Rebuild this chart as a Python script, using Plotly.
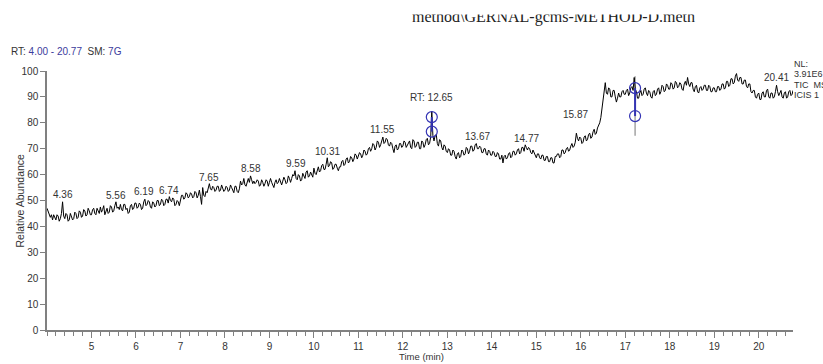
import numpy as np
import plotly.graph_objects as go

# ---------------- data ----------------
abund = [
    # 4.00 - 4.975
    47, 46, 45, 43.5, 44.5, 42.5, 44.5, 43, 42.5, 44.5, 44, 42, 43, 45, 49.5, 44, 43, 45, 44.5, 42,
    42.5, 45, 44, 42.5, 43, 45.5, 45, 43, 43.5, 46, 45.5, 43.5, 44, 46.5, 46, 44, 44.5, 47, 46, 44.5,
    # 5
    44.5, 46.5, 47, 45, 44.5, 47, 46, 45, 47.5, 45.5, 46.5, 48, 44.5, 45.5, 47, 45, 45.5, 48, 47.5, 45.5,
    46, 48, 49.5, 47, 47.5, 46.5, 48.5, 46.5, 46, 48.5, 48.5, 46.5, 47, 45, 45.5, 48, 48.5, 46.5, 47, 49,
    # 6
    49, 47, 47.5, 49, 48.5, 46.5, 47, 49.5, 50.5, 48, 48.5, 50, 49.5, 47.5, 47, 49.5, 49, 47.5, 48, 50,
    50, 48, 48.5, 50.5, 50, 48, 48.5, 50.5, 50.5, 49, 51.5, 50, 49.5, 51, 50.5, 48, 48.5, 50, 49.5, 48,
    # 7
    50.5, 52, 52, 50.5, 51, 53, 52.5, 51, 51.5, 53, 52.5, 51, 51.5, 53.5, 53, 51, 52, 54, 51.5, 48.5,
    55, 52, 51.5, 53.5, 53, 55, 56.5, 54.5, 54, 55.5, 55, 53.5, 54, 55.5, 55.5, 53.5, 54, 56, 55, 53.5,
    # 8
    54, 55.5, 55, 53.5, 54, 56, 55, 53.5, 53, 55.5, 55.5, 53.5, 53, 54.5, 57.5, 56, 56.5, 58.5, 56, 55.5,
    57.5, 58.5, 57, 59.5, 58, 56.5, 57.5, 56.5, 57, 58, 57.5, 55.5, 56, 58, 57, 55.5, 56.5, 58, 57.5, 55.5,
    # 9
    57, 58.5, 57, 55.5, 55, 57, 58, 56.5, 57, 58.5, 57.5, 56, 57.5, 59, 58, 56.5, 57, 59.5, 58.5, 57,
    58.5, 60, 59.5, 61.5, 58.5, 58, 60, 59.5, 57.5, 58, 60.5, 59, 58.5, 61, 61.5, 59, 59.5, 61, 60, 59,
    # 10
    62.5, 60.5, 60, 62, 63, 61, 61.5, 63.5, 64, 62, 62, 64, 66.5, 63, 63.5, 65, 64.5, 62, 62.5, 64,
    64, 62.5, 61.5, 63, 63, 65, 65.5, 63.5, 64, 66, 66.5, 64.5, 65, 67, 66.5, 65, 66, 68, 67.5, 66,
    # 11
    67, 68.5, 68, 66.5, 67.5, 69.5, 69, 67.5, 68, 70, 70.5, 69, 70, 72, 71.5, 69.5, 70.5, 73, 72.5, 70.5,
    71.5, 73, 74.5, 72, 72.5, 74, 73.5, 71.5, 71, 72.5, 72, 70, 68.5, 71, 71.5, 69.5, 70, 72, 72, 70.5,
    # 12
    71, 73, 72.5, 70.5, 71.5, 72.5, 73, 70.5, 70, 73.5, 73, 70.5, 71, 72.5, 72.5, 70, 70, 73, 72.5, 70.5,
    71.5, 73.5, 74, 71.5, 72, 74.5, 84.5, 75, 73, 75, 75.5, 72, 71, 73.5, 73, 70.5, 69.5, 71.5, 71, 69,
    # 13
    68.5, 70, 69.5, 67.5, 67.5, 69.5, 69, 67, 66, 68, 68.5, 66.5, 67, 69.5, 69, 67.5, 68, 70.5, 70, 68,
    69, 71, 71, 69, 69.5, 71.5, 72, 70, 70, 71, 70.5, 68.5, 68.5, 70, 70, 68, 67.5, 69.5, 69, 67.5,
    # 14
    67.5, 69, 68.5, 67, 67, 68.5, 68, 66, 66, 67.5, 64.5, 67, 67.5, 66, 66.5, 68, 68.5, 66.5, 67, 69,
    69, 67.5, 68, 69.5, 70, 68, 68.5, 70.5, 70.5, 69, 71.5, 70.5, 69.5, 70.5, 70, 68.5, 68, 69.5, 68.5, 67,
    # 15
    66.5, 68, 68, 66.5, 66, 67.5, 67.5, 65.5, 65.5, 67, 67, 65, 65, 66.5, 66.5, 64.5, 64.5, 67, 67, 68,
    68, 66.5, 67, 69.5, 69.5, 68, 68.5, 70, 70.5, 69, 69.5, 71, 72, 70.5, 71, 72.5, 76, 74, 73, 74.5,
    # 16
    74, 72, 72.5, 74.5, 75, 73, 73.5, 75.5, 76, 74, 74.5, 76.5, 77.5, 75.5, 76, 78, 79, 80, 82, 85,
    89, 92, 95.5, 91.5, 91, 93.5, 93, 90, 90, 92.5, 92.5, 90, 88, 89.5, 91.5, 90, 90, 92, 92.5, 91,
    # 17
    91, 92.5, 93, 90.5, 91.5, 93.5, 94, 92.5, 97.5, 93, 92, 89.5, 89.5, 91.5, 92.5, 90.5, 91, 93, 93.5, 91.5,
    90.5, 92.5, 92, 90, 89.5, 92, 92.5, 90.5, 91, 93, 93.5, 91, 92, 94.5, 94, 92, 92.5, 95, 94.5, 93,
    # 18
    93, 95.5, 95, 93, 93.5, 96, 95.5, 93.5, 94, 95.5, 95, 93, 92.5, 95, 96, 94.5, 97.5, 95, 94, 95.5,
    95.5, 93, 92, 94, 94.5, 92, 91.5, 93.5, 94, 92.5, 93, 94.5, 94.5, 92.5, 92.5, 94.5, 94, 92, 92, 93.5,
    # 19
    93.5, 92, 92, 94, 94, 92.5, 93, 95, 95, 93, 93.5, 96, 96, 94, 94.5, 97, 97, 95, 95.5, 98,
    99, 96.5, 96, 97.5, 97.5, 95, 95, 96.5, 96.5, 94, 93.5, 95, 95, 92, 91.5, 92.5, 92.5, 90, 89.5, 91,
    # 20.00 - 20.75, then 20.77
    91.5, 89, 89, 91.5, 92, 90, 90, 92.5, 93, 90, 89.5, 91.5, 91.5, 89.5, 90, 92, 94.5, 92, 90.5, 91.5,
    92.5, 90, 89.5, 91.5, 92, 89.5, 90, 92, 92.5, 90.5, 91, 92.5,
]

# sampling grid of the detector: every 0.025 min from 4.00 to 20.75, last scan at 20.77
times = [round(4.0 + 0.025 * i, 3) for i in range(len(abund) - 1)] + [20.77]

peak_rt = [4.36, 5.56, 6.19, 6.74, 7.65, 8.58, 9.59, 10.31, 11.55, 12.65,
           13.67, 14.77, 15.87, 17.22, 18.40, 19.51, 20.41]
peak_text = ["4.36", "5.56", "6.19", "6.74", "7.65", "8.58", "9.59", "10.31", "11.55",
             "RT: 12.65", "13.67", "14.77", "15.87", "RT: 17.22", "18.40", "19.51", "20.41"]
peak_label_y = [52.2, 52.0, 53.3, 53.7, 59.0, 62.4, 64.4, 69.0, 77.5, 89.6,
                74.7, 74.0, 83.2, 100.8, 100.1, 102.0, 97.5]

marker_rt = [12.65, 17.22]
marker_top = [82.2, 93.4]
marker_bottom = [76.6, 82.6]

spike_rt = [17.22]
spike_low = [75.0]
spike_high = [98.0]

x_ticks = list(range(5, 21))
y_ticks = list(range(0, 101, 10))

# ---------------- geometry helpers (layout) ----------------
L, R, T, B = 47, 30, 71, 31
W, H = 823, 364
PW, PH = W - L - R, H - T - B


def px(xp):
    return (xp - L) / PW


def py(yp):
    return (H - B - yp) / PH


FONT = "Liberation Sans, Arial, sans-serif"
AX = "#808080"
TXT = "#333333"
BLUE = "#3434b4"

fig = go.Figure()

for rt, lo, hi in zip(spike_rt, spike_low, spike_high):
    fig.add_trace(go.Scatter(x=[rt, rt], y=[lo, hi], mode="lines",
                             line=dict(color="#8c8c8c", width=1.2),
                             hoverinfo="skip", showlegend=False))

fig.add_trace(go.Scatter(x=times, y=abund, mode="lines",
                         line=dict(color="black", width=1),
                         showlegend=False, name="TIC"))

for rt, top, bot in zip(marker_rt, marker_top, marker_bottom):
    fig.add_trace(go.Scatter(x=[rt, rt], y=[bot, top], mode="lines+markers",
                             line=dict(color=BLUE, width=2),
                             marker=dict(symbol="circle-open", size=11,
                                         color=BLUE, line=dict(width=1.2, color=BLUE)),
                             showlegend=False, hoverinfo="skip"))

annotations = []
for rt, txt, ly in zip(peak_rt, peak_text, peak_label_y):
    annotations.append(dict(x=rt, y=ly, xref="x", yref="y", text=txt,
                            showarrow=False, xanchor="center", yanchor="middle",
                            font=dict(family=FONT, size=10, color=TXT)))

annotations.append(dict(
    x=px(9), y=py(51.7), xref="paper", yref="paper", xanchor="left", yanchor="middle",
    text="RT: <span style='color:#3c3c9c'>4.00 - 20.77</span>&nbsp;&nbsp;SM: "
         "<span style='color:#3c3c9c'>7G</span>",
    showarrow=False, font=dict(family=FONT, size=10, color=TXT)))

# file name line, its upper part cut off as in the original print
annotations.append(dict(
    x=px(553), y=py(16.5), xref="paper", yref="paper", xanchor="center", yanchor="middle",
    text="method\\GERNAL-gcms-METHOD-D.meth", showarrow=False,
    font=dict(family="Liberation Serif, Times New Roman, serif", size=16, color="#222222")))
annotations.append(dict(
    x=px(553), y=py(14), xref="paper", yref="paper", xanchor="center", yanchor="bottom",
    text="x", showarrow=False, width=340, height=18, borderpad=0,
    bgcolor="white", font=dict(size=10, color="white")))

for txt, yp in zip(["NL:", "3.91E6", "TIC&nbsp;&nbsp;MS", "ICIS 1"], [63.5, 74.5, 85.5, 95.5]):
    annotations.append(dict(x=px(792), y=py(yp), xref="paper", yref="paper",
                            xanchor="left", yanchor="middle", text=txt, showarrow=False,
                            font=dict(family=FONT, size=9, color=TXT)))

annotations.append(dict(x=px(19), y=py(202), xref="paper", yref="paper",
                        text="Relative Abundance", textangle=-90, showarrow=False,
                        xanchor="center", yanchor="middle",
                        font=dict(family=FONT, size=10.5, color=TXT)))
annotations.append(dict(x=px(421), y=py(360), xref="paper", yref="paper",
                        text="Time (min)", showarrow=False,
                        xanchor="center", yanchor="middle",
                        font=dict(family=FONT, size=9.5, color=TXT)))

fig.update_layout(
    width=W, height=H,
    margin=dict(l=L, r=R, t=T, b=B, pad=0),
    paper_bgcolor="white", plot_bgcolor="white",
    annotations=annotations,
    showlegend=False,
    xaxis=dict(range=[4.0, 20.77], tickmode="array", tickvals=x_ticks,
               ticktext=[str(v) for v in x_ticks],
               showgrid=False, zeroline=False, showline=True, linecolor=AX, linewidth=1.5,
               ticks="outside", ticklen=6, tickcolor=AX, tickwidth=1,
               tickfont=dict(family=FONT, size=10, color=TXT),
               minor=dict(tickmode="linear", tick0=4.0, dtick=0.2, ticks="outside",
                          ticklen=4, tickcolor=AX, tickwidth=1, showgrid=False)),
    yaxis=dict(range=[0, 100], tickmode="array", tickvals=y_ticks,
               showgrid=False, zeroline=False, showline=True, linecolor=AX, linewidth=1.5,
               ticks="outside", ticklen=5, tickcolor=AX, tickwidth=1,
               tickfont=dict(family=FONT, size=10, color=TXT)),
)

fig.write_html("out.html",
               config={"displayModeBar": False},
               post_script="document.body.style.margin='0';document.body.style.padding='0';")
